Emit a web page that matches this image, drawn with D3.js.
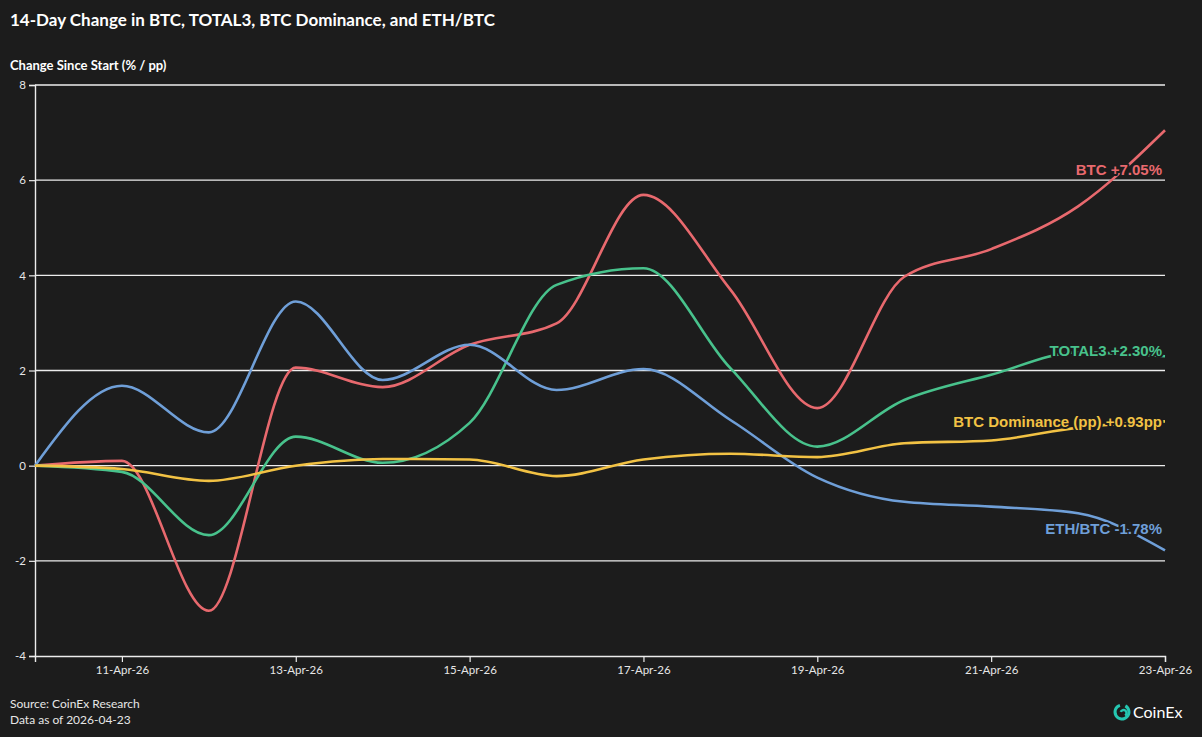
<!DOCTYPE html>
<html>
<head>
<meta charset="utf-8">
<script src="https://cdn.jsdelivr.net/npm/d3@7"></script>
<style>
  body { margin: 0; background: #1c1c1c; }
  svg { display: block; }
</style>
</head>
<body>
<div id="chart"></div>
<script>
var dates = ["2026-04-10", "2026-04-11", "2026-04-12", "2026-04-13", "2026-04-14", "2026-04-15", "2026-04-16",
             "2026-04-17", "2026-04-18", "2026-04-19", "2026-04-20", "2026-04-21", "2026-04-22", "2026-04-23"];
var btc       = [0, 0.10, -3.05, 2.06, 1.65, 2.54, 2.99, 5.69, 3.70, 1.21, 3.97, 4.55, 5.45, 7.05];
var total3    = [0, -0.13, -1.46, 0.61, 0.06, 0.90, 3.80, 4.15, 2.05, 0.40, 1.38, 1.91, 2.38, 2.30];
var dominance = [0, -0.07, -0.32, 0.00, 0.14, 0.13, -0.22, 0.13, 0.25, 0.18, 0.47, 0.53, 0.80, 0.93];
var ethbtc    = [0, 1.68, 0.70, 3.45, 1.80, 2.54, 1.59, 2.03, 0.96, -0.25, -0.76, -0.86, -1.00, -1.78];
var endLabels = ["BTC +7.05%", "TOTAL3 +2.30%", "BTC Dominance (pp) +0.93pp", "ETH/BTC -1.78%"];
var yTicks = [-4, -2, 0, 2, 4, 6, 8];
var xTicks = ["2026-04-11", "2026-04-13", "2026-04-15", "2026-04-17", "2026-04-19", "2026-04-21", "2026-04-23"];

// btc, total3, dominance, eth/btc
var colors = ["#e8696e", "#48c28c", "#f2c244", "#6f9fd8"];
// label nudges so end labels don't collide
var labelShift = [40, -5, 0, -22];

var width = 1202, height = 737;
var margin = {top: 85, right: 37, bottom: 81, left: 35};
var bg = "#1c1c1c";
var uiFont = "Lato, 'Open Sans', sans-serif";

var parse = d3.timeParse("%Y-%m-%d");
var fmt = d3.timeFormat("%-d-%b-%y");

var svg = d3.select("#chart").append("svg")
    .attr("width", width)
    .attr("height", height)
    .style("background", bg);

var x = d3.scaleTime()
    .domain([parse(dates[0]), parse(dates[dates.length - 1])])
    .range([margin.left, width - margin.right]);
var y = d3.scaleLinear()
    .domain([-4, 8])
    .range([height - margin.bottom, margin.top]);

// title + axis title
svg.append("text")
    .attr("x", 10).attr("y", 26)
    .attr("fill", "#fff")
    .attr("font-family", uiFont)
    .attr("font-weight", "bold")
    .attr("font-size", "17px")
    .text("14-Day Change in BTC, TOTAL3, BTC Dominance, and ETH/BTC");
svg.append("text")
    .attr("x", 10).attr("y", 70)
    .attr("fill", "#fff")
    .attr("font-family", uiFont)
    .attr("font-weight", "bold")
    .attr("font-size", "13px")
    .text("Change Since Start (% / pp)");

// gridlines
svg.append("g").selectAll("line")
    .data(yTicks.filter(function(d) { return d > -4; }))
    .enter().append("line")
    .attr("x1", margin.left).attr("x2", width - margin.right)
    .attr("y1", function(d) { return y(d); })
    .attr("y2", function(d) { return y(d); })
    .attr("stroke", "#ececec")
    .attr("stroke-width", 1.4);

var yAxis = svg.append("g")
    .attr("transform", "translate(" + margin.left + ",0)")
    .call(d3.axisLeft(y).tickValues(yTicks).tickSize(6).tickPadding(3)
        .tickFormat(function(d) { return String(d); }));
var xAxis = svg.append("g")
    .attr("transform", "translate(0," + (height - margin.bottom) + ")")
    .call(d3.axisBottom(x).tickValues(xTicks.map(parse)).tickSize(6).tickPadding(4)
        .tickFormat(fmt));
[yAxis, xAxis].forEach(function(ax) {
    ax.select(".domain").attr("stroke", "#ececec").attr("stroke-width", 1.4);
    ax.selectAll(".tick line").attr("stroke", "#ececec").attr("stroke-width", 1.2);
    ax.selectAll("text")
        .attr("fill", "#e6e6e6")
        .attr("font-family", uiFont)
        .attr("font-size", "11.5px");
});

// lines
var line = d3.line()
    .x(function(d, i) { return x(parse(dates[i])); })
    .y(function(d) { return y(d); })
    .curve(d3.curveMonotoneX);

var all = [btc, total3, dominance, ethbtc];
var drawOrder = [0, 1, 3, 2];
drawOrder.forEach(function(k) {
    svg.append("path")
        .datum(all[k])
        .attr("fill", "none")
        .attr("stroke", colors[k])
        .attr("stroke-width", 2.6)
        .attr("stroke-linejoin", "round")
        .attr("d", line);
});

// end labels with a halo
all.forEach(function(vals, k) {
    svg.append("text")
        .attr("x", width - margin.right - 3)
        .attr("y", y(vals[vals.length - 1]) + labelShift[k])
        .attr("dy", "0.35em")
        .attr("text-anchor", "end")
        .attr("font-family", "'Liberation Sans', Arial, sans-serif")
        .attr("font-weight", "bold")
        .attr("font-size", "15px")
        .attr("fill", colors[k])
        .attr("stroke", bg)
        .attr("stroke-width", 4)
        .attr("stroke-linejoin", "round")
        .attr("paint-order", "stroke")
        .text(endLabels[k]);
});

// footer
svg.append("text")
    .attr("x", 10).attr("y", 708)
    .attr("fill", "#e6e6e6")
    .attr("font-family", uiFont)
    .attr("font-size", "12px")
    .text("Source: CoinEx Research");
svg.append("text")
    .attr("x", 10).attr("y", 724)
    .attr("fill", "#e6e6e6")
    .attr("font-family", uiFont)
    .attr("font-size", "12px")
    .text("Data as of 2026-04-23");

// CoinEx logo
var logo = svg.append("g").attr("transform", "translate(1122,712)");
var arc = d3.arc();
logo.append("path")
    .attr("d", arc({innerRadius: 5.5, outerRadius: 8.5, startAngle: 0.5, endAngle: 2 * Math.PI - 0.3}))
    .attr("fill", "#25c7b1");
logo.append("path")
    .attr("d", arc({innerRadius: 1.8, outerRadius: 4.2, startAngle: -1.2, endAngle: 2.6}))
    .attr("transform", "translate(1.5,1)")
    .attr("fill", "#25c7b1");
svg.append("text")
    .attr("x", 1133).attr("y", 718)
    .attr("fill", "#fff")
    .attr("font-family", uiFont)
    .attr("font-size", "16px")
    .text("CoinEx");
</script>
</body>
</html>
